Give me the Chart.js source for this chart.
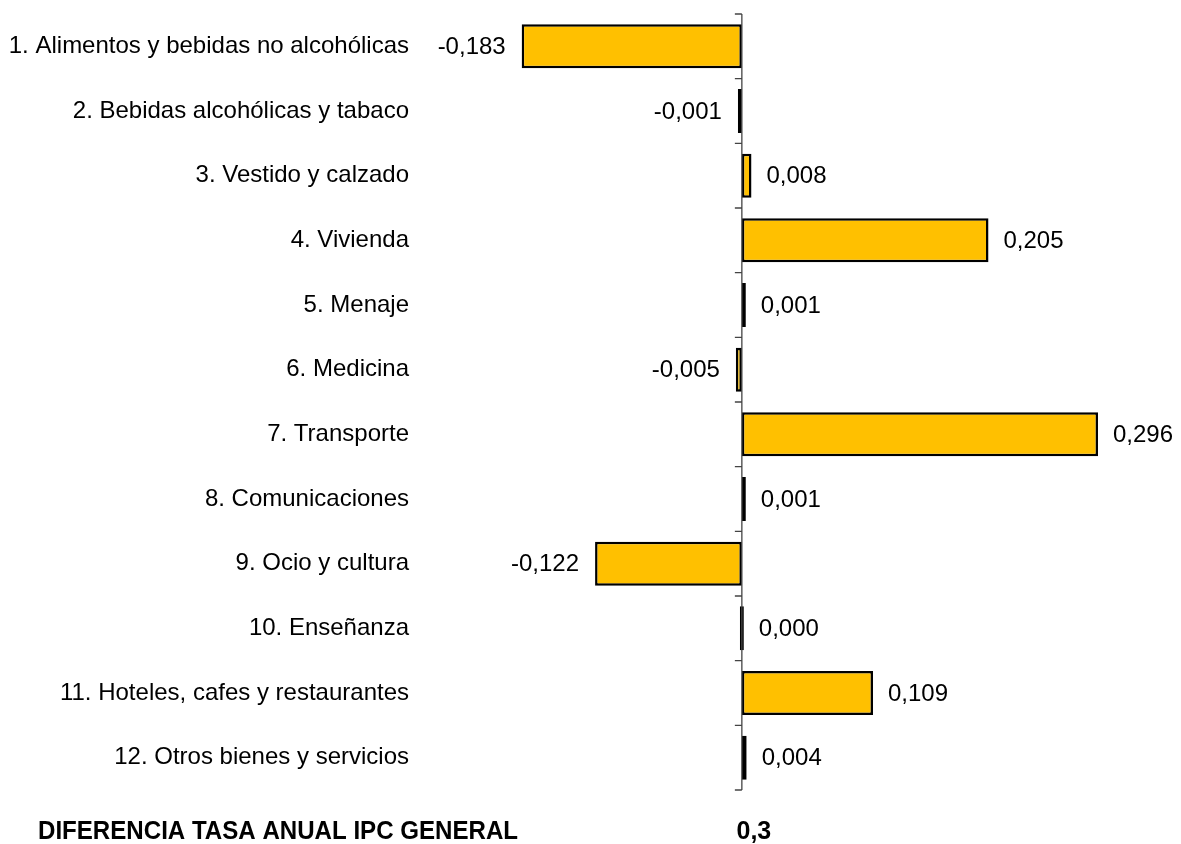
<!DOCTYPE html>
<html>
<head>
<meta charset="utf-8">
<script src="https://cdn.jsdelivr.net/npm/chart.js@4/dist/chart.umd.min.js"></script>
<style>
  html, body { margin: 0; padding: 0; background: #fff; }
  #wrap { width: 1181px; height: 844px; position: relative; }
</style>
</head>
<body>
<div id="wrap"><canvas id="ipcChart"></canvas></div>
<script>
// ---------------- Data ----------------
const categories = [
  "1. Alimentos y bebidas no alcohólicas",
  "2. Bebidas alcohólicas y tabaco",
  "3. Vestido y calzado",
  "4. Vivienda",
  "5. Menaje",
  "6. Medicina",
  "7. Transporte",
  "8. Comunicaciones",
  "9. Ocio y cultura",
  "10. Enseñanza",
  "11. Hoteles, cafes y restaurantes",
  "12. Otros bienes y servicios"
];
const contributions = [-0.183, -0.001, 0.008, 0.205, 0.001, -0.005, 0.296, 0.001, -0.122, 0.000, 0.109, 0.004];
const totalLabel = "DIFERENCIA TASA ANUAL IPC GENERAL";
const totalValue = 0.3;

const FONT = "'Liberation Sans', Arial, sans-serif";

function fmt(v, d) {
  return v.toFixed(d).replace(".", ",");
}

// ---------------- Plugins ----------------
// zero axis line with little ticks between categories
const zeroAxis = {
  id: "zeroAxis",
  afterDatasetsDraw(chart) {
    const { ctx } = chart;
    const x = chart.scales.x.getPixelForValue(0);
    const ys = chart.scales.y;
    const n = categories.length;
    ctx.save();
    ctx.strokeStyle = "#444";
    ctx.lineWidth = 1.3;
    ctx.beginPath();
    ctx.moveTo(x, ys.top);
    ctx.lineTo(x, ys.bottom);
    for (let i = 0; i <= n; i++) {
      const y = ys.top + (i * ys.height) / n;
      ctx.moveTo(x - 7, y);
      ctx.lineTo(x, y);
    }
    ctx.stroke();
    ctx.restore();
  },
};

// value labels at bar ends
const valueLabels = {
  id: "valueLabels",
  afterDatasetsDraw(chart) {
    const { ctx } = chart;
    const meta = chart.getDatasetMeta(0);
    ctx.save();
    ctx.font = "24px " + FONT;
    ctx.fillStyle = "#000";
    ctx.textBaseline = "middle";
    meta.data.forEach((bar, i) => {
      const v = contributions[i];
      if (v < 0) {
        ctx.textAlign = "right";
        ctx.fillText(fmt(v, 3), Math.min(bar.x, bar.base) - 16, bar.y + 1);
      } else {
        ctx.textAlign = "left";
        ctx.fillText(fmt(v, 3), Math.max(bar.x, bar.base) + 15, bar.y + 1);
      }
    });
    ctx.restore();
  },
};

// bold total line under the chart
const totalLine = {
  id: "totalLine",
  afterDraw(chart) {
    const { ctx } = chart;
    const x0 = chart.scales.x.getPixelForValue(0);
    const y = chart.scales.y.bottom + 42;
    ctx.save();
    ctx.fillStyle = "#000";
    ctx.textBaseline = "middle";
    ctx.font = "bold 25px " + FONT;
    ctx.textAlign = "left";
    ctx.fillText(totalLabel, 38, y, 480);
    ctx.textAlign = "center";
    ctx.fillText(fmt(totalValue, 1), x0 + 12, y);
    ctx.restore();
  },
};

// ---------------- Chart ----------------
const ctx = document.getElementById("ipcChart").getContext("2d");
const chart = new Chart(ctx, {
  type: "bar",
  data: {
    labels: categories,
    datasets: [
      {
        data: contributions,
        backgroundColor: "#FFC000",
        borderColor: "#000",
        borderWidth: 2.5,
        borderSkipped: false,
        minBarLength: 4,
        barPercentage: 0.68,
        categoryPercentage: 1,
      },
    ],
  },
  options: {
    indexAxis: "y",
    responsive: true,
    maintainAspectRatio: false,
    animation: false,
    layout: { padding: { top: 14, bottom: 54, left: 0, right: 6 } },
    plugins: {
      legend: { display: false },
      tooltip: { enabled: false },
    },
    scales: {
      x: {
        display: false,
        min: -0.27,
        max: 0.36,
      },
      y: {
        afterFit(scale) {
          scale.width = 417;
          scale.paddingTop = 0;
          scale.paddingBottom = 0;
        },
        grid: { display: false, drawTicks: false },
        border: { display: false },
        ticks: {
          color: "#000",
          padding: 8,
          font: { family: FONT, size: 24 },
        },
      },
    },
  },
  plugins: [zeroAxis, valueLabels, totalLine],
});
</script>
</body>
</html>
